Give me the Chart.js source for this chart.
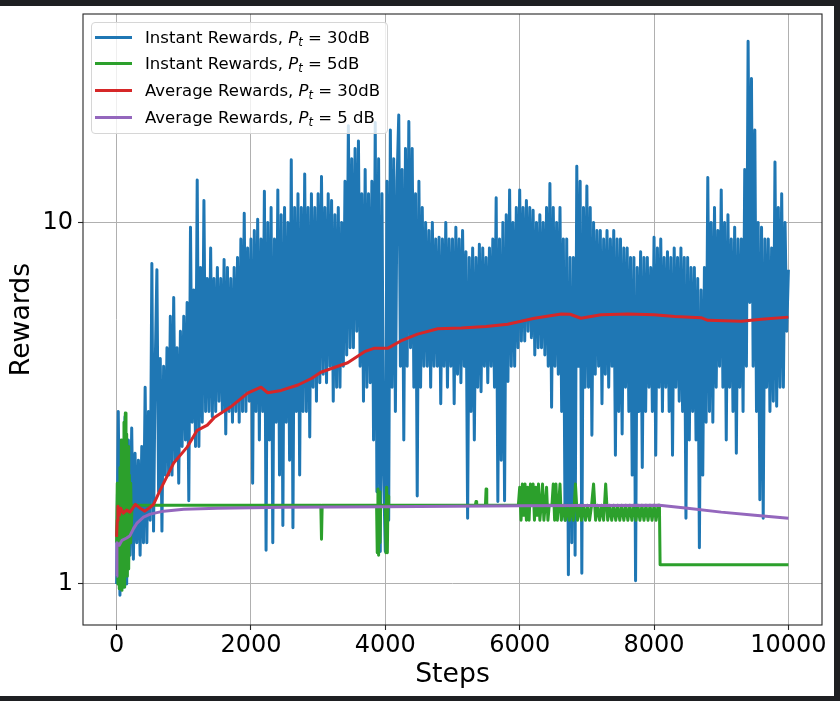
<!DOCTYPE html>
<html>
<head>
<meta charset="utf-8">
<script src="https://cdn.jsdelivr.net/npm/chart.js@4.4.1/dist/chart.umd.min.js"></script>
<style>
  html, body { margin: 0; padding: 0; width: 840px; height: 701px; overflow: hidden; background: #1e1f22; }
  #sheet { position: absolute; left: 0; top: 6px; width: 834px; height: 690px; background: #fff; }
  #plot { position: absolute; left: 0; top: 0; }
  .legend {
    position: absolute; left: 91px; top: 16px; width: 295px; height: 110px;
    border: 1px solid #d6d6d6; border-radius: 4px; background: rgba(255, 255, 255, 0.8);
    font-family: "DejaVu Sans", sans-serif; font-size: 16.5px; color: #000;
  }
  .legend-row { position: absolute; left: 0; height: 26px; display: flex; align-items: center; white-space: nowrap; }
  .legend-swatch { width: 37px; height: 3px; margin-left: 3px; margin-right: 13px; }
  .legend-row i { font-style: oblique; }
  .legend-row sub { font-size: 11.5px; vertical-align: -3px; line-height: 0; }
</style>
</head>
<body>
<div id="sheet">
  <canvas id="plot" width="834" height="690"></canvas>
  <div class="legend" id="legend"></div>
</div>
<script>
  "use strict";

  // axis ticks
  const xTicks = [0, 2000, 4000, 6000, 8000, 10000];
  const yTicks = [1, 10];

  // legend text: "<prefix>, P_t = <power>"
  const seriesPrefix = ["Instant Rewards", "Instant Rewards", "Average Rewards", "Average Rewards"];
  const seriesPower = ["30dB", "5dB", "30dB", "5 dB"];
  const seriesColors = ["#1f77b4", "#2ca02c", "#d62728", "#9467bd"];

  // instant rewards at 30 dB, one value every 25 steps (0 .. 10000)
  const BLUE_STEP = 25;
  const instant30 = [
    1.0, 3.0, 0.93, 2.4, 0.98, 2.9, 1.0, 2.5,
    1.2, 2.7, 1.17, 2.3, 1.3, 2.2, 1.2, 2.4,
    1.3, 3.5, 1.3, 3.0, 1.5, 7.7, 1.4, 4.0,
    7.4, 1.8, 4.2, 1.4, 4.0, 2.0, 4.5, 2.0,
    5.5, 2.0, 6.2, 2.2, 4.5, 1.9, 5.0, 2.4,
    5.5, 2.5, 6.0, 1.7, 9.7, 2.8, 6.5, 2.4,
    13.1, 2.4, 7.5, 2.8, 11.5, 3.0, 7.0, 3.0,
    8.5, 2.9, 7.0, 3.0, 7.5, 3.2, 7.0, 3.0,
    7.9, 2.6, 7.5, 3.0, 7.0, 2.8, 7.5, 3.0,
    8.0, 2.8, 9.0, 3.0, 10.6, 3.0, 8.5, 3.2,
    9.0, 1.9, 9.5, 3.0, 10.2, 2.5, 9.0, 3.0,
    12.2, 1.24, 10.0, 2.5, 11.0, 1.3, 9.0, 2.8,
    12.3, 2.0, 10.5, 1.45, 11.0, 2.8, 10.0, 2.2,
    14.9, 1.43, 11.0, 3.0, 12.0, 2.0, 11.0, 3.0,
    13.6, 3.0, 11.0, 2.55, 12.0, 3.5, 11.0, 3.2,
    12.0, 3.6, 13.4, 3.8, 11.0, 3.6, 12.0, 4.0,
    11.5, 3.2, 10.5, 3.5, 11.0, 3.5, 10.0, 4.0,
    13.0, 4.3, 18.5, 4.5, 15.0, 4.5, 16.0, 5.0,
    16.8, 4.0, 12.0, 3.2, 14.0, 3.5, 12.0, 3.6,
    13.0, 2.5, 18.9, 1.8, 15.0, 1.23, 12.0, 2.0,
    1.23, 13.0, 1.5, 18.0, 3.5, 15.0, 3.0, 13.0,
    19.8, 4.0, 14.0, 2.5, 16.0, 4.0, 19.0, 4.5,
    16.0, 3.5, 12.0, 1.75, 13.0, 3.5, 11.0, 4.0,
    10.0, 4.0, 9.5, 3.5, 10.0, 4.0, 9.0, 4.0,
    9.1, 3.15, 9.0, 4.0, 10.0, 3.5, 9.0, 4.0,
    9.0, 3.15, 9.7, 3.8, 9.0, 3.6, 9.5, 4.0,
    8.3, 1.52, 8.0, 3.0, 8.5, 2.5, 8.0, 3.5,
    8.7, 3.4, 8.5, 4.0, 8.0, 3.6, 8.5, 4.0,
    9.0, 3.5, 11.7, 1.69, 9.0, 2.2, 10.0, 1.7,
    10.5, 3.63, 12.3, 4.0, 10.0, 4.0, 11.0, 4.5,
    12.3, 4.7, 11.0, 4.7, 11.5, 5.0, 11.0, 4.8,
    10.8, 4.3, 10.0, 4.5, 10.5, 4.5, 10.0, 4.3,
    11.0, 4.0, 12.8, 3.08, 11.0, 4.0, 10.0, 3.8,
    11.0, 3.0, 9.0, 1.5, 9.0, 1.06, 8.0, 1.3,
    8.0, 1.2, 14.3, 4.0, 13.0, 1.07, 11.0, 3.5,
    12.6, 3.5, 11.0, 2.58, 10.0, 3.8, 9.5, 4.0,
    9.5, 3.15, 9.0, 3.8, 9.5, 3.5, 9.0, 4.0,
    9.5, 2.27, 9.0, 3.0, 9.0, 2.6, 8.5, 3.5,
    8.5, 3.0, 8.0, 2.0, 8.0, 1.02, 7.5, 3.0,
    8.3, 2.1, 8.0, 3.0, 8.0, 3.5, 7.5, 3.0,
    9.1, 2.27, 8.5, 3.5, 9.0, 3.0, 8.0, 3.5,
    8.3, 3.0, 8.0, 2.27, 8.5, 3.5, 8.0, 3.2,
    8.5, 3.0, 8.0, 1.52, 8.0, 2.5, 7.5, 3.0,
    7.5, 2.5, 7.0, 1.26, 6.5, 2.0, 7.5, 2.8,
    13.3, 3.0, 10.0, 2.8, 11.0, 3.5, 9.5, 4.0,
    12.3, 3.5, 10.0, 2.5, 10.5, 3.5, 9.0, 3.0,
    9.7, 2.3, 9.0, 3.5, 9.0, 3.0, 14.0, 4.0,
    31.7, 6.0, 25.0, 4.0, 18.0, 3.0, 10.0, 1.71,
    9.7, 1.52, 9.0, 3.5, 9.0, 3.0, 8.5, 3.2,
    14.7, 3.1, 11.0, 3.5, 12.0, 3.5, 10.0, 5.0,
    7.4,
  ];

  // instant rewards at 5 dB
  const instant5Steps = [
    0, 10, 20, 30, 40, 50, 60, 70, 80, 90, 100, 110, 120, 130, 140, 150, 160, 170, 180, 190, 200, 210, 220, 230,
    3040, 3050, 3060, 3870, 3880, 3890, 3900, 3910, 3920, 3930,
    4000, 4010, 4020, 4030, 4040, 4050, 5340, 5350, 5360, 5490, 5500, 5510,
    5980, 6000, 6020, 6040, 6060, 6080, 6100, 6120, 6140, 6160, 6180, 6200, 6220, 6240, 6260, 6280, 6300,
    6320, 6340, 6360, 6380, 6400, 6420, 6440, 6480, 6500, 6520, 6540, 6560, 6580, 6600, 6620,
    6650, 6680, 6710, 6740, 6770, 6800, 6830, 6860, 6890, 6920, 6950, 6980, 7010, 7040, 7070, 7100,
    7130, 7160, 7190, 7220, 7250, 7280, 7310, 7340, 7370, 7400, 7430, 7460, 7490, 7520, 7550, 7580,
    7610, 7640, 7670, 7700, 7730, 7760, 7790, 7820, 7850, 7880, 7910, 7940, 7970, 8000, 8030, 8060,
    8080, 8090, 10000,
  ];
  const instant5 = [
    1.3, 1.9, 1.0, 1.7, 0.97, 2.1, 1.0, 2.5, 0.96, 2.2, 1.1, 2.8, 0.98, 2.97, 1.2, 2.6, 1.05, 2.4, 1.1, 2.0, 1.3, 1.9, 1.45, 1.65,
    1.65, 1.33, 1.65, 1.65, 1.22, 1.83, 1.2, 1.8, 1.3, 1.65,
    1.65, 1.22, 1.85, 1.22, 1.75, 1.65, 1.65, 1.69, 1.65, 1.65, 1.83, 1.65,
    1.65, 1.85, 1.5, 1.89, 1.55, 1.89, 1.5, 1.85, 1.5, 1.89, 1.65, 1.89, 1.5, 1.85, 1.55, 1.89, 1.5,
    1.65, 1.89, 1.5, 1.65, 1.85, 1.5, 1.65, 1.65, 1.89, 1.5, 1.89, 1.5, 1.65, 1.89, 1.5,
    1.65, 1.5, 1.65, 1.5, 1.65, 1.5, 1.89, 1.5, 1.65, 1.5, 1.65, 1.5, 1.65, 1.5, 1.65, 1.89,
    1.5, 1.65, 1.5, 1.65, 1.5, 1.89, 1.5, 1.65, 1.5, 1.65, 1.5, 1.65, 1.5, 1.65, 1.5, 1.65,
    1.5, 1.65, 1.5, 1.65, 1.5, 1.65, 1.5, 1.65, 1.5, 1.65, 1.5, 1.65, 1.5, 1.65, 1.5, 1.65,
    1.65, 1.13, 1.13,
  ];

  // running averages
  const average30Steps = [
    0, 10, 20, 40, 60, 100, 150, 200, 280, 350, 420, 500, 550, 650, 850, 1050, 1200, 1350, 1450, 1700,
    1950, 2150, 2250, 2450, 2700, 2900, 3040, 3440, 3690, 3840, 4040, 4230, 4480, 4780, 5130, 5500,
    5820, 6220, 6620, 6750, 6910, 7210, 7610, 8000, 8310, 8700, 8800, 9300, 9600, 10000,
  ];
  const average30 = [
    1.35, 1.5, 1.64, 1.55, 1.62, 1.57, 1.6, 1.58, 1.66, 1.62, 1.59, 1.63, 1.66, 1.82, 2.16, 2.39, 2.66, 2.75, 2.88, 3.09,
    3.37, 3.5, 3.38, 3.43, 3.55, 3.7, 3.85, 4.09, 4.39, 4.49, 4.49, 4.7, 4.91, 5.08, 5.1, 5.15,
    5.23, 5.43, 5.58, 5.57, 5.43, 5.55, 5.58, 5.55, 5.49, 5.45, 5.36, 5.33, 5.4, 5.47,
  ];
  const average5Steps = [0, 5, 40, 80, 150, 200, 250, 300, 400, 500, 700, 1000, 1500, 2500, 4000, 6000, 8080, 8500, 9000, 9500, 10000];
  const average5 = [1.05, 1.3, 1.28, 1.32, 1.34, 1.36, 1.42, 1.47, 1.53, 1.56, 1.59, 1.61, 1.62, 1.63, 1.635, 1.645, 1.65, 1.62, 1.58, 1.55, 1.52];

  const FONT = "DejaVu Sans";

  function pairUp(steps, values) {
    return values.map((v, i) => ({ x: steps[i], y: v }));
  }

  function lineSet(idx, data, order) {
    return {
      label: seriesPrefix[idx] + ", Pt = " + seriesPower[idx],
      data,
      borderColor: seriesColors[idx],
      backgroundColor: seriesColors[idx],
      borderWidth: 3,
      borderJoinStyle: "round",
      borderCapStyle: "butt",
      pointRadius: 0,
      tension: 0,
      fill: false,
      order,
    };
  }

  // matplotlib-style box round the axes
  const framePlugin = {
    id: "frame",
    afterDatasetsDraw(chart) {
      const { ctx, chartArea: a } = chart;
      ctx.save();
      ctx.strokeStyle = "#262626";
      ctx.lineWidth = 1.1;
      ctx.strokeRect(a.left, a.top, a.right - a.left, a.bottom - a.top);
      ctx.restore();
    },
  };

  const gridStyle = {
    color: "#b0b0b0",
    lineWidth: 1,
    drawTicks: true,
    tickLength: 5,
    tickColor: "#262626",
    tickWidth: 1.1,
  };

  new Chart(document.getElementById("plot"), {
    type: "line",
    data: {
      datasets: [
        lineSet(0, instant30.map((v, i) => ({ x: i * BLUE_STEP, y: v })), 4),
        lineSet(1, pairUp(instant5Steps, instant5), 3),
        lineSet(2, pairUp(average30Steps, average30), 2),
        lineSet(3, pairUp(average5Steps, average5), 1),
      ],
    },
    options: {
      responsive: false,
      animation: false,
      events: [],
      layout: { padding: { left: 0, top: 8, right: 12, bottom: 0 } },
      plugins: { legend: { display: false }, tooltip: { enabled: false } },
      scales: {
        x: {
          type: "linear",
          min: -500,
          max: 10500,
          afterBuildTicks(s) {
            s.ticks = xTicks.map((v) => ({ value: v }));
          },
          afterFit(s) {
            s.height = 71;
            s.paddingLeft = 0;
            s.paddingRight = 0;
          },
          grid: gridStyle,
          border: { display: false },
          ticks: {
            color: "#000",
            font: { family: FONT, size: 24 },
            padding: 1,
            maxRotation: 0,
            autoSkip: false,
            callback: (v) => String(v),
          },
          title: {
            display: true,
            text: "Steps",
            color: "#000",
            font: { family: FONT, size: 26.7 },
            padding: { top: 0, bottom: 5 },
          },
        },
        y: {
          type: "logarithmic",
          min: 0.77,
          max: 37.7,
          afterBuildTicks(s) {
            s.ticks = yTicks.map((v) => ({ value: v }));
          },
          afterFit(s) {
            s.width = 83;
            s.paddingTop = 0;
            s.paddingBottom = 0;
          },
          grid: gridStyle,
          border: { display: false },
          ticks: {
            color: "#000",
            font: { family: FONT, size: 24 },
            padding: 5,
            autoSkip: false,
            callback: (v) => String(v),
          },
          title: {
            display: true,
            text: "Rewards",
            color: "#000",
            font: { family: FONT, size: 26.7 },
            padding: { top: 6, bottom: 0 },
          },
        },
      },
    },
    plugins: [framePlugin],
  });

  // legend with italic P and subscript t
  const legendEl = document.getElementById("legend");
  seriesPrefix.forEach((prefix, i) => {
    const row = document.createElement("div");
    row.className = "legend-row";
    row.style.top = (1 + i * 26.9) + "px";
    const sw = document.createElement("span");
    sw.className = "legend-swatch";
    sw.style.background = seriesColors[i];
    const txt = document.createElement("span");
    txt.innerHTML = prefix + ", <i>P</i><sub><i>t</i></sub> = " + seriesPower[i];
    row.appendChild(sw);
    row.appendChild(txt);
    legendEl.appendChild(row);
  });
</script>
</body>
</html>
